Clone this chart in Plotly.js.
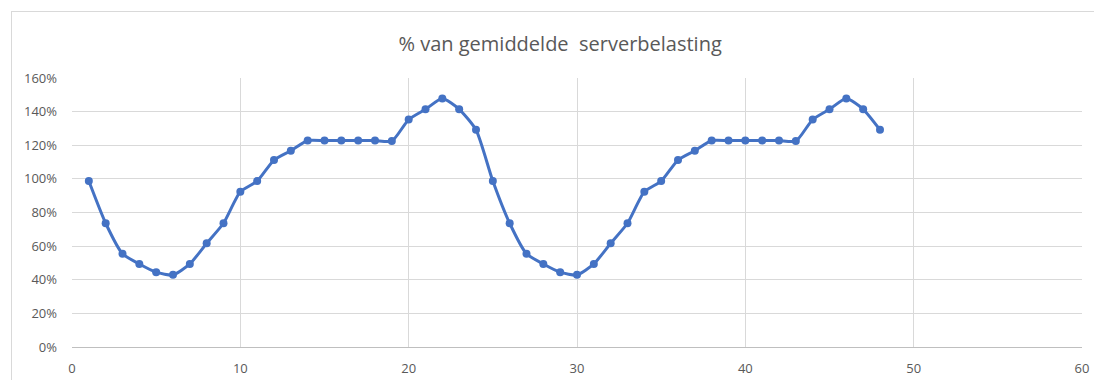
<!DOCTYPE html>
<html>
<head>
<meta charset="utf-8">
<script src="https://cdn.plot.ly/plotly-3.0.1.min.js"></script>
<style>
  html, body { margin: 0; padding: 0; background: #fff; overflow: hidden; }
  #chart { width: 1094px; height: 380px; }
  #frame { position: absolute; left: 11px; top: 11px; width: 1200px; height: 600px;
           border: 1px solid #d9d9d9; pointer-events: none; }
</style>
</head>
<body>
<div id="chart"></div>
<div id="frame"></div>
<script>
const titleText = "% van gemiddelde\u00a0 serverbelasting";
const xValues = [1,2,3,4,5,6,7,8,9,10,11,12,13,14,15,16,17,18,19,20,21,22,23,24,
                 25,26,27,28,29,30,31,32,33,34,35,36,37,38,39,40,41,42,43,44,45,46,47,48];
const loadPct = [98.7,73.6,55.5,49.4,44.5,42.9,49.4,61.7,73.6,92.3,98.7,111.2,116.7,122.8,122.8,122.8,122.8,122.8,122.5,135.3,141.4,147.8,141.4,129.2,
                 98.7,73.6,55.5,49.4,44.5,42.9,49.4,61.7,73.6,92.3,98.7,111.2,116.7,122.8,122.8,122.8,122.8,122.8,122.5,135.3,141.4,147.8,141.4,129.2];

const txt = '#595959';
const grid = '#d9d9d9';
const fontFam = 'Open Sans, Noto Sans, sans-serif';

const trace = {
  x: xValues,
  y: loadPct,
  type: 'scatter',
  mode: 'lines+markers',
  line: { color: '#4472C4', width: 3, shape: 'spline', smoothing: 0.6 },
  marker: { color: '#4472C4', size: 8 },
  hoverinfo: 'x+y'
};

const layout = {
  width: 1094, height: 380,
  margin: { l: 72, r: 12, t: 78, b: 33 },
  paper_bgcolor: '#ffffff',
  plot_bgcolor: '#ffffff',
  showlegend: false,
  font: { family: fontFam, color: txt, size: 13 },
  title: {
    text: titleText,
    font: { family: fontFam, size: 20, color: txt },
    x: 0.512, xanchor: 'center', xref: 'container',
    y: 0.885, yanchor: 'middle', yref: 'container'
  },
  xaxis: {
    range: [0, 60], dtick: 10, tick0: 0,
    showgrid: true, gridcolor: grid, gridwidth: 1,
    zeroline: false,
    showline: true, linecolor: '#bfbfbf', linewidth: 1,
    ticks: '', ticklabelstandoff: 9,
    tickfont: { family: fontFam, size: 13, color: txt },
    fixedrange: true
  },
  yaxis: {
    range: [0, 160], dtick: 20, tick0: 0, ticksuffix: '%',
    showgrid: true, gridcolor: grid, gridwidth: 1,
    zeroline: false, showline: false,
    ticks: '', ticklabelstandoff: 14,
    tickfont: { family: fontFam, size: 13, color: txt },
    fixedrange: true
  }
};

Plotly.newPlot('chart', [trace], layout, { displayModeBar: false, staticPlot: true });
</script>
</body>
</html>
